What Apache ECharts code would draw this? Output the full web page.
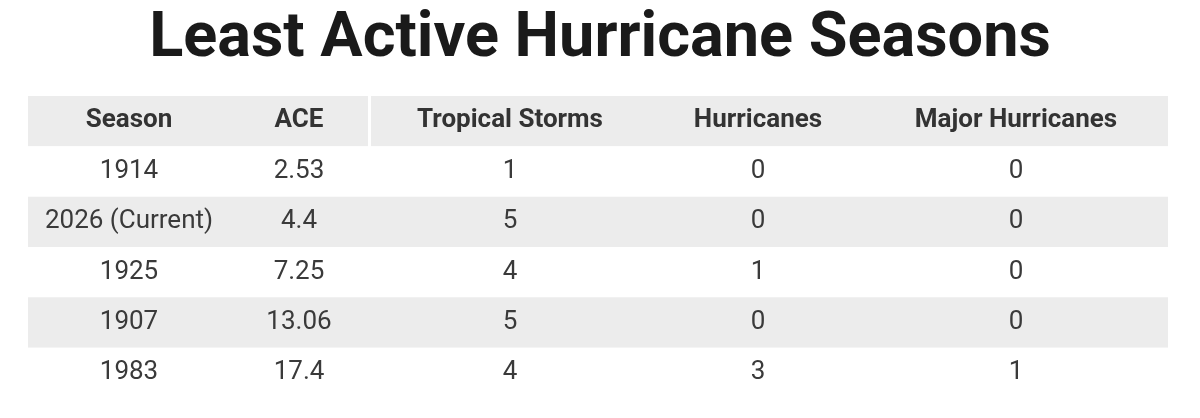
<!DOCTYPE html>
<html><head><meta charset="utf-8">
<script src="https://cdn.jsdelivr.net/npm/echarts@6/dist/echarts.min.js"></script>
<style>html,body{margin:0;padding:0;background:#fff}#c{width:1200px;height:418px}</style>
</head><body><div id="c"></div>
<script>
var title = 'Least Active Hurricane Seasons';
var headers = ['Season','ACE','Tropical Storms','Hurricanes','Major Hurricanes'];
var seasons = ['1914','2026 (Current)','1925','1907','1983'];
var ace = ['2.53','4.4','7.25','13.06','17.4'];
var tropicalStorms = [1,5,4,5,4];
var hurricanes = [0,0,1,0,3];
var majorHurricanes = [0,0,0,0,1];

var colEdges = [0,202,340,624,836,1140];
var rows = ['h'].concat(seasons.map(function(s,i){return 'r'+i;}));
var data = [];
headers.forEach(function(h,c){ data.push([c,0,h,1]); });
seasons.forEach(function(s,i){
  var vals=[s,ace[i],tropicalStorms[i],hurricanes[i],majorHurricanes[i]];
  vals.forEach(function(v,c){ data.push([c,i+1,String(v),0]); });
});
var chart = echarts.init(document.getElementById('c'));
chart.setOption({
  animation:false,
  title:{text:title,left:'center',top:4,textStyle:{fontFamily:'Roboto',fontWeight:'bold',fontSize:63,color:'#1a1a1a'}},
  grid:{left:28,right:32,top:96,bottom:20},
  xAxis:{type:'value',min:0,max:1140,show:false},
  yAxis:{type:'category',data:rows,inverse:true,show:false},
  series:[{type:'custom',data:data,encode:{x:0,y:1},
    renderItem:function(params,api){
      var c=api.value(0), r=api.value(1), txt=data[params.dataIndex][2], hdr=api.value(3);
      var x0=api.coord([colEdges[c],r])[0], x1=api.coord([colEdges[c+1],r])[0];
      var yc=api.coord([0,r])[1], h=api.size([0,1])[1];
      var gray=(r%2===0);
      var w=x1-x0;
      if(hdr && c===2){x0+=3;w-=3;}
      return {type:'group',children:[
        {type:'rect',shape:{x:x0,y:yc-h/2,width:w,height:h},style:{fill:gray?'#ececec':'#ffffff'}},
        {type:'text',style:{x:(api.coord([colEdges[c],r])[0]+x1)/2,y:yc+(hdr?-1:0),text:txt,align:'center',verticalAlign:'middle',
          fontFamily:'Roboto',fontSize:hdr?26:26,fontWeight:hdr?'bold':'normal',fill:hdr?'#333':'#3a3a3a'}}
      ]};
    }}]
});
</script></body></html>
